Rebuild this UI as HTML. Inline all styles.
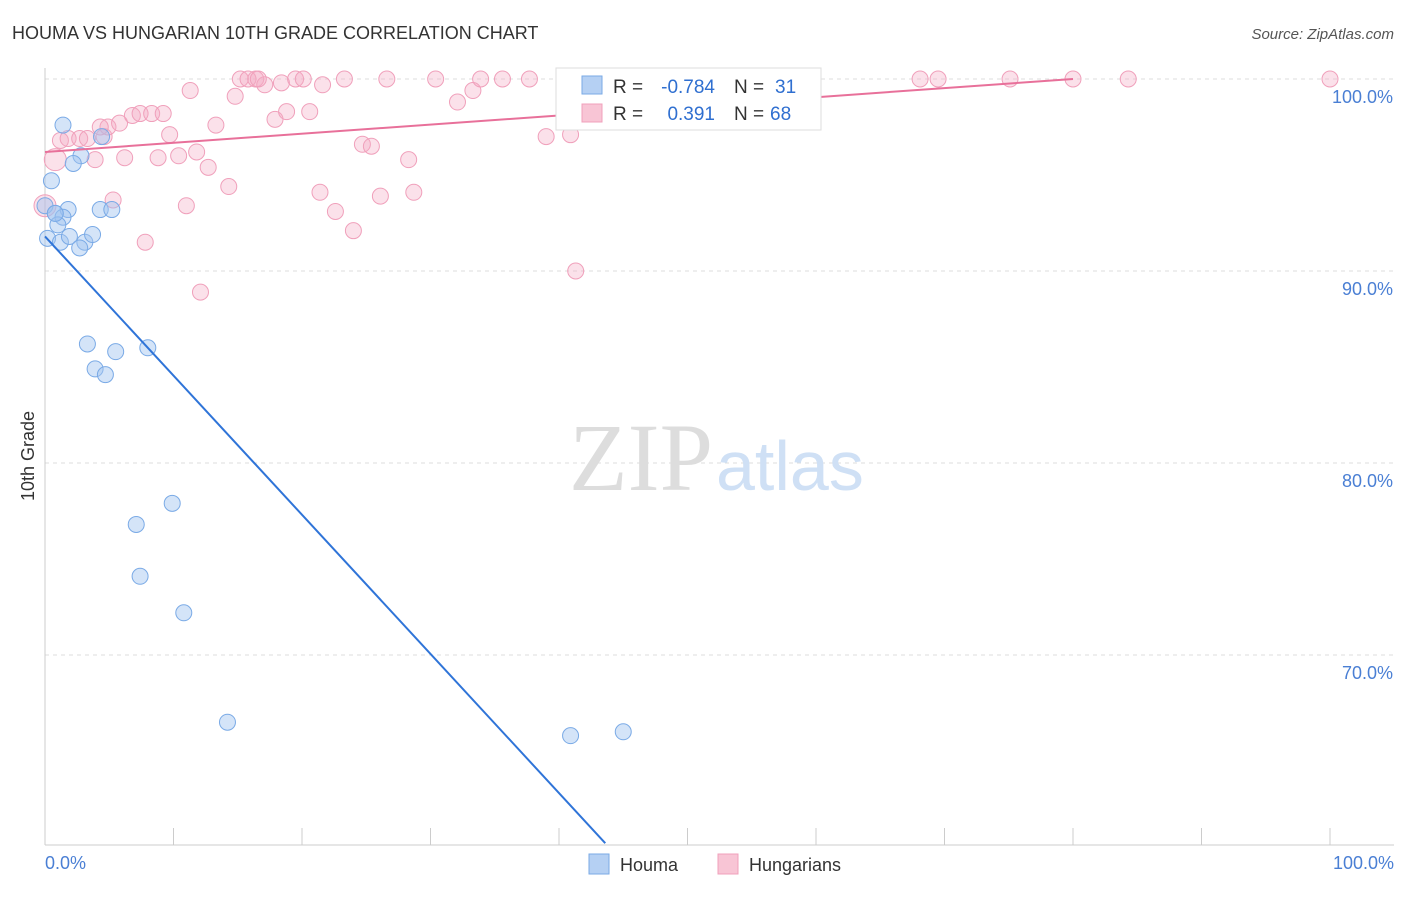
<!DOCTYPE html>
<html><head><meta charset="utf-8"><style>
body{margin:0;background:#fff;font-family:"Liberation Sans",sans-serif;}
</style></head><body>
<svg width="1406" height="892" xmlns="http://www.w3.org/2000/svg">
<text x="12" y="39" font-size="18" fill="#333">HOUMA VS HUNGARIAN 10TH GRADE CORRELATION CHART</text>
<text x="1394" y="39" font-size="15" fill="#555" text-anchor="end" font-style="italic">Source: ZipAtlas.com</text>
<g id="grid"></g>
<text x="713" y="490" font-size="96" fill="#ddd" text-anchor="end" font-family="Liberation Serif">ZIP</text>
<text x="716" y="490" font-size="70" fill="#cfe0f5">atlas</text>
<line x1="45" y1="68" x2="45" y2="845" stroke="#ccc"/>
<line x1="45" y1="845" x2="1394" y2="845" stroke="#ccc"/>
<text transform="translate(34,456) rotate(-90)" font-size="18" fill="#333" text-anchor="middle">10th Grade</text>
<text x="45" y="869" font-size="18" fill="#4a7fd4">0.0%</text>
<text x="1394" y="869" font-size="18" fill="#4a7fd4" text-anchor="end">100.0%</text>
<g id="marks"></g>
<g>
<rect x="556" y="68" width="265" height="62" fill="#fff" stroke="#ddd"/>
<rect x="582" y="76" width="20" height="18" fill="#b5d0f3" stroke="#7aaae6"/>
<rect x="582" y="104" width="20" height="18" fill="#f8c5d5" stroke="#f0a0bb"/>
<text x="613" y="93" font-size="19" fill="#333">R =</text>
<text x="715" y="93" font-size="19" fill="#2f6fd0" text-anchor="end">-0.784</text>
<text x="734" y="93" font-size="19" fill="#333">N =</text>
<text x="775" y="93" font-size="19" fill="#2f6fd0">31</text>
<text x="613" y="120" font-size="19" fill="#333">R =</text>
<text x="715" y="120" font-size="19" fill="#2f6fd0" text-anchor="end">0.391</text>
<text x="734" y="120" font-size="19" fill="#333">N =</text>
<text x="770" y="120" font-size="19" fill="#2f6fd0">68</text>
</g>
<g>
<rect x="589" y="854" width="20" height="20" fill="#b5d0f3" stroke="#7aaae6"/>
<text x="620" y="871" font-size="18" fill="#333">Houma</text>
<rect x="718" y="854" width="20" height="20" fill="#f8c5d5" stroke="#f0a0bb"/>
<text x="749" y="871" font-size="18" fill="#333">Hungarians</text>
</g>
</svg>
<script>
const yTicks=[100,90,80,70];
const yTickLabels=["100.0%","90.0%","80.0%","70.0%"];
const xTicks=[0,10,20,30,40,50,60,70,80,90,100];
const houmaX=[1.4,2.8,2.2,4.4,0.5,0,0.8,1.8,1.4,1.0,4.3,5.2,0.2,1.2,1.9,3.1,2.7,3.7,3.3,5.5,8.0,3.9,4.7,9.9,7.1,7.4,10.8,14.2,40.9,45.0,0.8];
const houmaY=[97.6,96.0,95.6,97.0,94.7,93.4,93.0,93.2,92.8,92.4,93.2,93.2,91.7,91.5,91.8,91.5,91.2,91.9,86.2,85.8,86.0,84.9,84.6,77.9,76.8,74.1,72.2,66.5,65.8,66.0,93.0];
const hungX=[0,0.8,1.2,1.8,2.7,3.3,3.9,4.6,4.9,5.3,5.8,6.2,6.8,7.4,7.8,8.3,8.8,9.2,9.7,10.4,11.0,11.3,11.8,12.1,12.7,13.3,14.3,14.8,15.2,15.8,16.4,17.1,17.9,18.4,18.8,19.5,20.1,20.6,21.4,21.6,22.6,23.3,24.0,24.7,25.4,26.1,26.6,28.3,28.7,30.4,32.1,33.3,33.9,35.6,37.7,39.0,40.9,41.3,53.7,56.7,68.1,69.5,75.1,80.0,84.3,100,16.6,4.3];
const hungY=[93.4,95.8,96.8,96.9,96.9,96.9,95.8,97.0,97.5,93.7,97.7,95.9,98.1,98.2,91.5,98.2,95.9,98.2,97.1,96.0,93.4,99.4,96.2,88.9,95.4,97.6,94.4,99.1,100,100,100,99.7,97.9,99.8,98.3,100,100,98.3,94.1,99.7,93.1,100,92.1,96.6,96.5,93.9,100,95.8,94.1,100,98.8,99.4,100,100,100,97.0,97.1,90.0,100,100,100,100,100,100,100,100,100,97.5];
const houmaTrend=[[0,91.8],[43.6,60.2]];
const hungTrend=[[0,96.2],[80,100]];
const X=v=>45+v*12.85, Y=v=>79+(100-v)*19.2;
const NS="http://www.w3.org/2000/svg";
const grid=document.getElementById('grid'), marks=document.getElementById('marks');
function mk(tag,attrs,parent){const e=document.createElementNS(NS,tag);for(const k in attrs)e.setAttribute(k,attrs[k]);parent.appendChild(e);return e;}
yTicks.forEach((t,i)=>{
 const l=mk('line',{x1:45,x2:1394,y1:Y(t),y2:Y(t),stroke:'#ddd','stroke-dasharray':'4,4'},grid);
 
 
 const tx=mk('text',{x:1393,y:Y(t)+24,'font-size':18,fill:'#4a7fd4','text-anchor':'end'},grid);
 tx.textContent=yTickLabels[i];
 
 
});
xTicks.forEach(t=>{
 const l=mk('line',{x1:X(t),x2:X(t),y1:828,y2:845,stroke:'#ccc'},grid);
 
 
});
hungX.forEach((x,i)=>{
 const c=mk('circle',{cx:X(x),cy:Y(hungY[i]),r:(i<2?11:8),fill:'rgba(244,170,195,0.35)',stroke:'#f0a0bb','stroke-width':1},marks);
 
 
});
houmaX.forEach((x,i)=>{
 const c=mk('circle',{cx:X(x),cy:Y(houmaY[i]),r:8,fill:'rgba(160,196,240,0.45)',stroke:'#7aaae6','stroke-width':1},marks);
 
 
});
const t1=mk('line',{x1:X(houmaTrend[0][0]),y1:Y(houmaTrend[0][1]),x2:X(houmaTrend[1][0]),y2:Y(houmaTrend[1][1]),stroke:'#2f74d8','stroke-width':2},marks);


const t2=mk('line',{x1:X(hungTrend[0][0]),y1:Y(hungTrend[0][1]),x2:X(hungTrend[1][0]),y2:Y(hungTrend[1][1]),stroke:'#e8709a','stroke-width':2},marks);


</script>
</body></html>
